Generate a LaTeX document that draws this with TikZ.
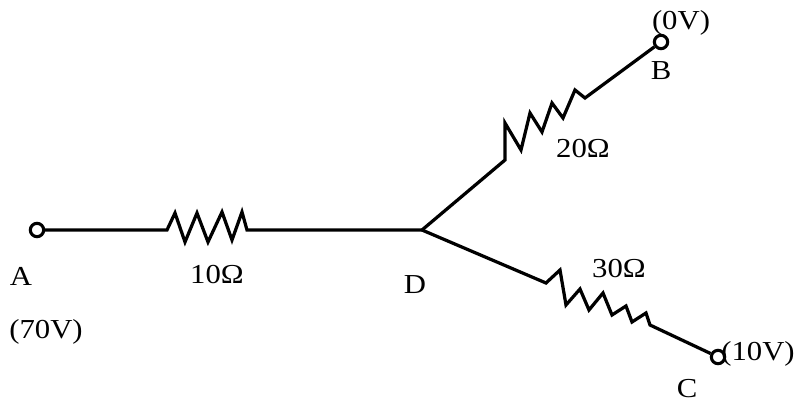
\documentclass[tikz,border=0pt]{standalone}
\usepackage{fontspec}
\setmainfont{Liberation Serif}
\usetikzlibrary{positioning}
\tikzset{%
	wire/.style={line width=2.3pt, line join=miter},
	term/.style={circle, draw, line width=2.2pt, fill=white, inner sep=0pt, minimum size=9.5pt},
	lbl/.style={anchor=base, inner sep=0pt, font=\fontsize{19.5}{22}\selectfont}
}
\newcommand{\wtxt}[1]{\scalebox{1.12}[1]{#1}}

\begin{document}
\begin{tikzpicture}[x=0.025cm, y=-0.025cm]
	\useasboundingbox (0,0) rectangle (797,407);
	% junction, resistor ends
	\coordinate (D) at (422,230);
	\coordinate (r1) at (167,230);
	\coordinate (r2) at (505,160);
	\coordinate (r3) at (546,283);
	% terminals
	\node [term] (A) at (37,230) {};
	\node [term] (B) at (661,42) {};
	\node [term] (C) at (718,357) {};
	% branches with resistors
	\draw [wire] (A) -- (r1) -- ++(8,-17) -- ++(10,29) -- ++(12,-29) -- ++(11,29) -- ++(14,-30) -- ++(10,28) -- ++(10,-28) -- ++(5,18) -- (D);
	\draw [wire] (D) -- (r2) -- ++(0,-37) -- ++(16,27) -- ++(9,-37) -- ++(12,19) -- ++(10,-29) -- ++(11,15) -- ++(12,-28) -- ++(10,8) -- (B);
	\draw [wire] (D) -- (r3) -- ++(14,-13) -- ++(6,35) -- ++(14,-16) -- ++(9,21) -- ++(14,-17) -- ++(9,22) -- ++(14,-9) -- ++(6,16) -- ++(14,-9) -- ++(4,12) -- (C);
	% labels
	\node [lbl] (lA) at (21,285) {\wtxt{A}};
	\node [lbl] (vA) at (46,338) {\wtxt{(70V)}};
	\node [lbl] (lB) at (661,80) {\wtxt{B}};
	\node [lbl] (vB) at (681,30) {\wtxt{(0V)}};
	\node [lbl] (lC) at (687,397) {\wtxt{C}};
	\node [lbl, anchor=base east] (vC) at (795,360) {\wtxt{(10V)}};
	\node [lbl] (lD) at (415,293) {\wtxt{D}};
	\node [lbl] (R1) at (217,283) {\wtxt{10Ω}};
	\node [lbl] (R2) at (583,158) {\wtxt{20Ω}};
	\node [lbl] (R3) at (619,277) {\wtxt{30Ω}};
\end{tikzpicture}
\end{document}
